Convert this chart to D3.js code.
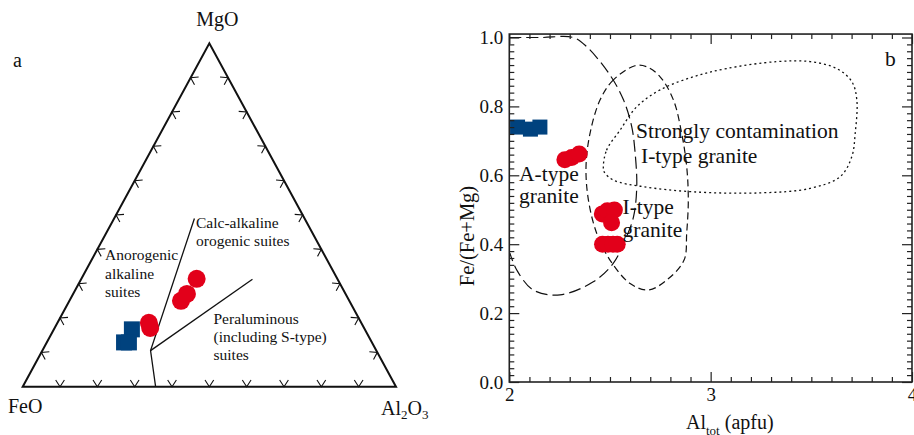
<!DOCTYPE html>
<html>
<head>
<meta charset="utf-8">
<script src="https://cdn.jsdelivr.net/npm/d3@7"></script>
<style>
  body { margin: 0; background: #fff; }
  svg { display: block; }
  text { font-family: "Liberation Serif", "Times New Roman", serif; fill: #111; }
</style>
</head>
<body>
<svg id="chart" width="914" height="435"></svg>
<script>
// ---------- Panel a: FeO – MgO – Al2O3 ternary (wt% normalised; order FeO, MgO, Al2O3) ----------
const apexFeO = "FeO";
const apexMgO = "MgO";
const ternaryRed = [[37.7, 31.4, 30.9], [45.1, 25.0, 29.9], [42.5, 27.0, 30.5], [56.9, 18.6, 24.5], [57.3, 17.1, 25.6]];
const ternaryBlue = [[62.4, 16.7, 20.9], [66.4, 12.9, 20.7], [65.1, 12.9, 22.0]];
const calcAlkalineBoundary = [[29.5, 49.0, 21.5], [60.5, 10.5, 29.0], [64.4, 0.0, 35.6]];
const peraluminousBoundary = [[60.5, 10.5, 29.0], [22.8, 31.3, 45.9]];
const ternaryTicks = [10, 20, 30, 40, 50, 60, 70, 80, 90];
const anorogenicLines = ["Anorogenic", "alkaline", "suites"];
const calcAlkalineLines = ["Calc-alkaline", "orogenic suites"];
const peraluminousLines = ["Peraluminous", "(including S-type)", "suites"];

// ---------- Panel b: Fe/(Fe+Mg) vs Al_tot ----------
const xMajorB = [2, 3, 4];
const yMajorB = [0.0, 0.2, 0.4, 0.6, 0.8, 1.0];
const blueB = [[2.041, 0.740], [2.105, 0.734], [2.152, 0.740]];
const redB = [
  [2.276, 0.645], [2.310, 0.652], [2.347, 0.662],
  [2.462, 0.488], [2.487, 0.497], [2.522, 0.499], [2.508, 0.462],
  [2.463, 0.400], [2.490, 0.400], [2.515, 0.400], [2.536, 0.400]
];
const aTypeField = [
  [2.00, 1.00], [2.16, 1.00], [2.318, 1.00], [2.385, 0.973], [2.50, 0.891], [2.567, 0.819],
  [2.608, 0.741], [2.625, 0.664], [2.633, 0.567], [2.617, 0.480], [2.575, 0.412],
  [2.517, 0.345], [2.417, 0.291], [2.252, 0.253], [2.119, 0.267], [2.037, 0.325], [2.003, 0.374]
];
const iTypeField = [
  [2.624, 0.918], [2.517, 0.877], [2.451, 0.819], [2.401, 0.722], [2.381, 0.625], [2.393, 0.528],
  [2.434, 0.432], [2.50, 0.354], [2.60, 0.286], [2.69, 0.267], [2.782, 0.296], [2.868, 0.354],
  [2.881, 0.432], [2.889, 0.528], [2.881, 0.625], [2.856, 0.722], [2.815, 0.819], [2.749, 0.886],
  [2.683, 0.915]
];
const contaminatedField = [
  [2.467, 0.625], [2.483, 0.673], [2.550, 0.731], [2.633, 0.799], [2.749, 0.848], [2.914, 0.886],
  [3.080, 0.910], [3.328, 0.930], [3.494, 0.930], [3.626, 0.910], [3.701, 0.872], [3.726, 0.819],
  [3.718, 0.722], [3.701, 0.654], [3.643, 0.596], [3.494, 0.562], [3.246, 0.549], [2.914, 0.552],
  [2.666, 0.567], [2.517, 0.586], [2.471, 0.610]
];

const RED = "#e2001a";
const BLUE = "#00427e";
const svg = d3.select("#chart");
svg.append("rect").attr("width", 914).attr("height", 435).attr("fill", "#fff");

// ================= Panel a =================
const ga = svg.append("g");
// horizontal position uses Al2O3 + MgO/2, vertical uses MgO
const tx = d3.scaleLinear().domain([0, 100]).range([22.7, 396]);
const ty = d3.scaleLinear().domain([0, 100]).range([386.7, 43.3]);
const tern = d => [tx(d[2] + d[1] / 2), ty(d[1])];

const vFeO = tern([100, 0, 0]), vMgO = tern([0, 100, 0]), vAl = tern([0, 0, 100]);
ga.append("path")
  .attr("d", d3.line()([vFeO, vMgO, vAl]) + "Z")
  .attr("fill", "none").attr("stroke", "#111").attr("stroke-width", 2).attr("stroke-linejoin", "miter");

// chevron ticks on each edge, vertex on the edge, arms pointing inward
const centroid = tern([100 / 3, 100 / 3, 100 / 3]);
const edges = [[vFeO, vAl], [vFeO, vMgO], [vMgO, vAl]];
const armAng = 33 * Math.PI / 180, armLen = 8;
edges.forEach(([p0, p1]) => {
  const ex = p1[0] - p0[0], ey = p1[1] - p0[1], L = Math.hypot(ex, ey);
  let nx = -ey / L, ny = ex / L;
  const mx = (p0[0] + p1[0]) / 2, my = (p0[1] + p1[1]) / 2;
  if ((centroid[0] - mx) * nx + (centroid[1] - my) * ny < 0) { nx = -nx; ny = -ny; }
  const rot = (a) => [nx * Math.cos(a) - ny * Math.sin(a), nx * Math.sin(a) + ny * Math.cos(a)];
  const a1 = rot(armAng), a2 = rot(-armAng);
  ternaryTicks.forEach(t => {
    const px = p0[0] + ex * t / 100, py = p0[1] + ey * t / 100;
    ga.append("path")
      .attr("d", `M${px + a1[0] * armLen},${py + a1[1] * armLen}L${px},${py}L${px + a2[0] * armLen},${py + a2[1] * armLen}`)
      .attr("fill", "none").attr("stroke", "#111").attr("stroke-width", 1.1);
  });
});

// field boundaries
[calcAlkalineBoundary, peraluminousBoundary].forEach(b => {
  ga.append("path").attr("d", d3.line()(b.map(tern)))
    .attr("fill", "none").attr("stroke", "#111").attr("stroke-width", 1.3);
});

// samples
const sqA = 16;
ga.selectAll(".bsqa").data(ternaryBlue).join("rect")
  .attr("x", d => tern(d)[0] - sqA / 2).attr("y", d => tern(d)[1] - sqA / 2)
  .attr("width", sqA).attr("height", sqA).attr("fill", BLUE);
ga.selectAll(".rca").data(ternaryRed).join("circle")
  .attr("cx", d => tern(d)[0]).attr("cy", d => tern(d)[1]).attr("r", 9).attr("fill", RED);

// apex labels
ga.append("text").attr("x", vMgO[0] + 8).attr("y", 26).attr("text-anchor", "middle")
  .attr("font-size", 20).text(apexMgO);
ga.append("text").attr("x", 8).attr("y", 413).attr("font-size", 20).text(apexFeO);
const alt = ga.append("text").attr("x", 381).attr("y", 415).attr("font-size", 20);
alt.append("tspan").text("Al");
alt.append("tspan").attr("font-size", 13).attr("dy", 4).text("2");
alt.append("tspan").attr("dy", -4).text("O");
alt.append("tspan").attr("font-size", 13).attr("dy", 4).text("3");
ga.append("text").attr("x", 13).attr("y", 67).attr("font-size", 20).text("a");

// field labels
function block(g, lines, x, y0, lh, fs) {
  lines.forEach((s, i) => g.append("text").attr("x", x).attr("y", y0 + i * lh)
    .attr("font-size", fs).text(s));
}
block(ga, anorogenicLines, 105, 260, 18.6, 15.5);
block(ga, calcAlkalineLines, 196, 228, 18, 15.5);
block(ga, peraluminousLines, 213.5, 324, 18.2, 15.5);

// ================= Panel b =================
const gb = svg.append("g");
const x = d3.scaleLinear().domain([2, 4]).range([509.3, 912]);
const y = d3.scaleLinear().domain([0, 1]).range([382, 37.5]);
const yTop = y(1.01);

gb.append("defs").append("clipPath").attr("id", "clipb")
  .append("rect").attr("x", x(2)).attr("y", yTop).attr("width", x(4) - x(2)).attr("height", y(0) - yTop);

const plot = gb.append("g").attr("clip-path", "url(#clipb)");
const lineB = d3.line().x(d => x(d[0])).y(d => y(d[1]));

plot.append("path").datum(aTypeField)
  .attr("d", lineB.curve(d3.curveCatmullRom.alpha(0.5)))
  .attr("fill", "none").attr("stroke", "#111").attr("stroke-width", 1.2).attr("stroke-dasharray", "12,5");
plot.append("path").datum(iTypeField)
  .attr("d", lineB.curve(d3.curveCatmullRomClosed.alpha(0.5)))
  .attr("fill", "none").attr("stroke", "#111").attr("stroke-width", 1.2).attr("stroke-dasharray", "7,4");
plot.append("path").datum(contaminatedField)
  .attr("d", lineB.curve(d3.curveCatmullRomClosed.alpha(0.5)))
  .attr("fill", "none").attr("stroke", "#111").attr("stroke-width", 1.3).attr("stroke-dasharray", "2,3");

// samples
const sqB = 15;
plot.selectAll(".bsqb").data(blueB).join("rect")
  .attr("x", d => x(d[0]) - sqB / 2).attr("y", d => y(d[1]) - sqB / 2)
  .attr("width", sqB).attr("height", sqB).attr("fill", BLUE);
plot.selectAll(".rcb").data(redB).join("circle")
  .attr("cx", d => x(d[0])).attr("cy", d => y(d[1])).attr("r", 8.5).attr("fill", RED);

// field labels
block(gb, ["Strongly contamination"], 636, 138, 0, 21.5);
block(gb, ["I-type granite"], 641, 163, 0, 21.5);
block(gb, ["A-type", "granite"], 519, 181, 21.5, 21.5);
block(gb, ["I-type", "granite"], 622.5, 214, 22.5, 21.5);
gb.append("text").attr("x", 885).attr("y", 66).attr("font-size", 21.5).text("b");

// axes: inward major and minor ticks on all four sides
const yMinor = d3.range(0, 1.0001, 0.02).filter(v => Math.abs(v * 5 - Math.round(v * 5)) > 1e-6);
const xMinor = d3.range(2, 4.0001, 0.1).filter(v => Math.abs(v - Math.round(v)) > 1e-6);
const fmt = d3.format(".1f");
function styleAxis(g) {
  g.selectAll("path.domain").remove();
  g.selectAll("line").attr("stroke", "#222").attr("stroke-width", 1.2);
  g.selectAll("text").attr("font-family", "Liberation Serif, Times New Roman, serif").attr("font-size", 19).attr("fill", "#111");
}
gb.append("g").attr("transform", `translate(${x(2)},0)`)
  .call(d3.axisLeft(y).tickValues(yMajorB).tickFormat(fmt).tickSize(-10).tickPadding(6)).call(styleAxis);
gb.append("g").attr("transform", `translate(${x(2)},0)`)
  .call(d3.axisLeft(y).tickValues(yMinor).tickFormat("").tickSize(-5)).call(styleAxis);
gb.append("g").attr("transform", `translate(${x(4)},0)`)
  .call(d3.axisRight(y).tickValues(yMajorB).tickFormat("").tickSize(-10)).call(styleAxis);
gb.append("g").attr("transform", `translate(${x(4)},0)`)
  .call(d3.axisRight(y).tickValues(yMinor).tickFormat("").tickSize(-5)).call(styleAxis);
gb.append("g").attr("transform", `translate(0,${y(0)})`)
  .call(d3.axisBottom(x).tickValues(xMajorB).tickFormat(d3.format("d")).tickSize(-10).tickPadding(6)).call(styleAxis);
gb.append("g").attr("transform", `translate(0,${y(0)})`)
  .call(d3.axisBottom(x).tickValues(xMinor).tickFormat("").tickSize(-5)).call(styleAxis);
gb.append("g").attr("transform", `translate(0,${yTop})`)
  .call(d3.axisTop(x).tickValues(xMajorB).tickFormat("").tickSize(-10)).call(styleAxis);
gb.append("g").attr("transform", `translate(0,${yTop})`)
  .call(d3.axisTop(x).tickValues(xMinor).tickFormat("").tickSize(-5)).call(styleAxis);

gb.append("rect").attr("x", x(2)).attr("y", yTop).attr("width", x(4) - x(2)).attr("height", y(0) - yTop)
  .attr("fill", "none").attr("stroke", "#222").attr("stroke-width", 1.6);

// axis titles
const xt = gb.append("text").attr("x", 686).attr("y", 429).attr("font-size", 20);
xt.append("tspan").text("Al");
xt.append("tspan").attr("font-size", 13).attr("dy", 6).text("tot");
xt.append("tspan").attr("dy", -6).text(" (apfu)");
gb.append("text").attr("transform", "translate(474,236) rotate(-90)").attr("text-anchor", "middle")
  .attr("font-size", 20.5).text("Fe/(Fe+Mg)");
</script>
</body>
</html>
